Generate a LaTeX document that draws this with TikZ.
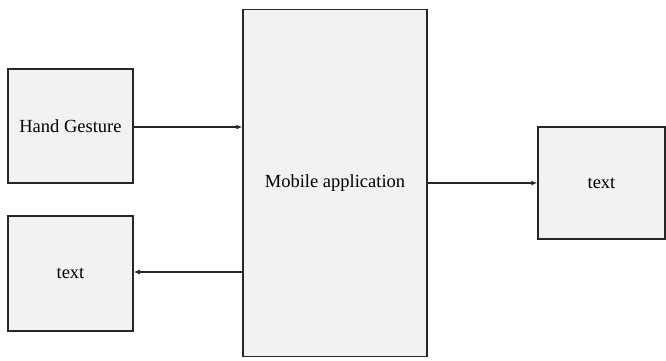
\documentclass[tikz,border=0pt]{standalone}
\usepackage{fontspec}
\setmainfont{Liberation Serif}
\usetikzlibrary{arrows.meta}
\begin{document}
\begin{tikzpicture}[x=1pt,y=-1pt,
  blk/.style={draw=black!85,line width=1.5pt,fill=black!5,inner sep=0pt,font=\fontsize{18.5}{22}\selectfont},
  conn/.style={draw=black!85,line width=1.2pt,-{Latex[length=6pt,width=5pt]}}]
\useasboundingbox (0,0) rectangle (666,360);
\node[blk,minimum width=125pt,minimum height=114pt] (hand) at (70.5,126) {Hand Gesture};
\node[blk,minimum width=125pt,minimum height=115pt] (out1) at (70.5,273.5) {text};
\node[blk,minimum width=184pt,minimum height=347pt] (app) at (335,183) {Mobile application};
\node[blk,minimum width=127pt,minimum height=112pt] (out2) at (601.5,183) {text};
\draw[conn] (hand.east |- 0,127) -- (app.west |- 0,127);
\draw[conn] (app.west |- 0,272) -- (out1.east |- 0,272);
\draw[conn] (app.east |- 0,183) -- (out2.west |- 0,183);
\end{tikzpicture}
\end{document}
